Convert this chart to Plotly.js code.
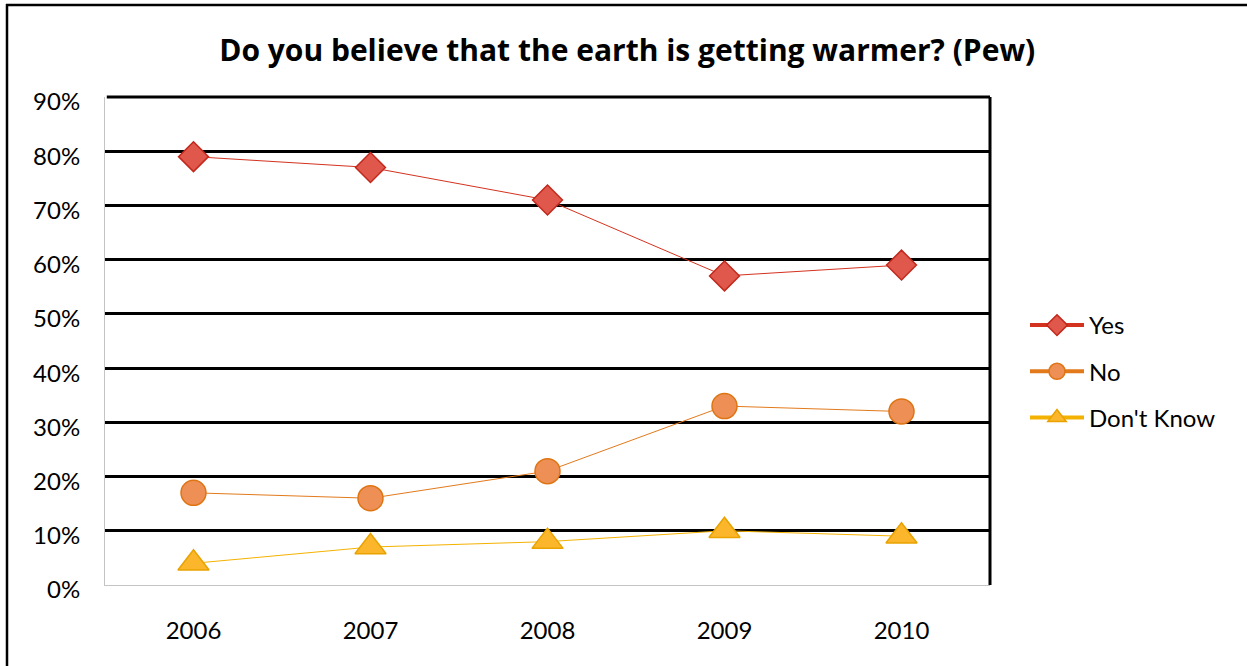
<!DOCTYPE html>
<html>
<head>
<meta charset="utf-8">
<script src="https://cdn.plot.ly/plotly-3.0.1.min.js"></script>
<style>html,body{margin:0;padding:0;background:#fff;}#chart{width:1247px;height:666px;}</style>
</head>
<body>
<div id="chart"></div>
<script>
const years = ['2006', '2007', '2008', '2009', '2010'];
const yesValues = [79, 77, 71, 57, 59];
const noValues = [17, 16, 21, 33, 32];
const dontKnowValues = [4, 7, 8, 10, 9];
const seriesNames = ['Yes', 'No', "Don't Know"];
const yTickValues = [0, 10, 20, 30, 40, 50, 60, 70, 80, 90];
const yTickLabels = ['0%', '10%', '20%', '30%', '40%', '50%', '60%', '70%', '80%', '90%'];

const FONT = 'Lato, "Open Sans", sans-serif';
const TITLE_FONT = '"Open Sans", Lato, sans-serif';
const W = 1247, H = 666;
const M = {l: 105, r: 257, t: 97, b: 81};
const pw = W - M.l - M.r, ph = H - M.t - M.b;
const px = v => (v - M.l) / pw;
const py = v => (H - M.b - v) / ph;

const styles = [
  {symbol: 'diamond', size: 23, fill: '#e0574c', edge: '#c2281b', line: '#d3321f'},
  {symbol: 'circle', size: 25, fill: '#ee9056', edge: '#de7412', line: '#e27a1c'},
  {symbol: 'triangle-up', size: 27, fill: '#fbb62c', edge: '#e9a300', line: '#f4b200'}
];
const seriesValues = [yesValues, noValues, dontKnowValues];

const traces = [];
seriesValues.forEach((vals, i) => {
  const s = styles[i];
  traces.push({
    x: years, y: vals, type: 'scatter', mode: 'lines+markers',
    name: seriesNames[i], showlegend: false, cliponaxis: false,
    line: {color: s.line, width: 1},
    marker: {symbol: s.symbol, size: s.size, color: s.fill, line: {color: s.edge, width: 1.5}}
  });
});
seriesValues.forEach((vals, i) => {
  const s = styles[i];
  traces.push({
    x: [null], y: [null], type: 'scatter', mode: 'lines+markers',
    name: seriesNames[i], legendgroup: 'g' + i, showlegend: true,
    line: {color: s.line, width: 4},
    marker: {symbol: s.symbol, size: s.size, color: s.fill, line: {color: s.edge, width: 1.5}}
  });
});

const layout = {
  width: W, height: H,
  margin: M,
  paper_bgcolor: '#fff', plot_bgcolor: '#fff',
  font: {family: FONT, color: '#000', size: 24},
  title: {text: '<b>Do you believe that the earth is getting warmer? (Pew)</b>',
          font: {family: TITLE_FONT, size: 30, color: '#000'},
          x: 0.503, xanchor: 'center', y: 1 - 50 / H, yanchor: 'middle'},
  xaxis: {
    type: 'category', range: [-0.5, 4.5], showgrid: false, zeroline: false,
    showline: true, linecolor: '#c4c4c4', linewidth: 1, ticks: '',
    tickfont: {family: FONT, size: 24, color: '#000'}, ticklabelstandoff: 24,
    fixedrange: true
  },
  yaxis: {
    range: [0, 90], tickvals: yTickValues, ticktext: yTickLabels,
    showgrid: true, gridcolor: '#000', gridwidth: 3, zeroline: false,
    showline: true, linecolor: '#c4c4c4', linewidth: 1, ticks: '',
    tickfont: {family: FONT, size: 24, color: '#000'}, ticklabelstandoff: 19,
    ticklabelshift: 5, fixedrange: true
  },
  legend: {
    x: px(1025), xanchor: 'left', y: py(303), yanchor: 'top',
    font: {family: FONT, size: 24, color: '#000'},
    itemwidth: 54, tracegroupgap: 12, bgcolor: 'rgba(0,0,0,0)'
  },
  shapes: [
    {type: 'line', xref: 'paper', yref: 'paper', x0: 1, x1: 1, y0: 0, y1: 1,
     line: {color: '#000', width: 3}},
    {type: 'line', xref: 'paper', yref: 'paper', x0: 0.002, x1: 1, y0: 1, y1: 1,
     line: {color: '#000', width: 3}},
    {type: 'line', xref: 'paper', yref: 'paper', x0: px(7), x1: px(7), y0: py(4), y1: py(680),
     line: {color: '#000', width: 2.5}},
    {type: 'line', xref: 'paper', yref: 'paper', x0: px(6), x1: px(1260), y0: py(5), y1: py(5),
     line: {color: '#000', width: 2.5}}
  ]
};

Plotly.newPlot('chart', traces, layout, {displayModeBar: false, staticPlot: true});
</script>
</body>
</html>
